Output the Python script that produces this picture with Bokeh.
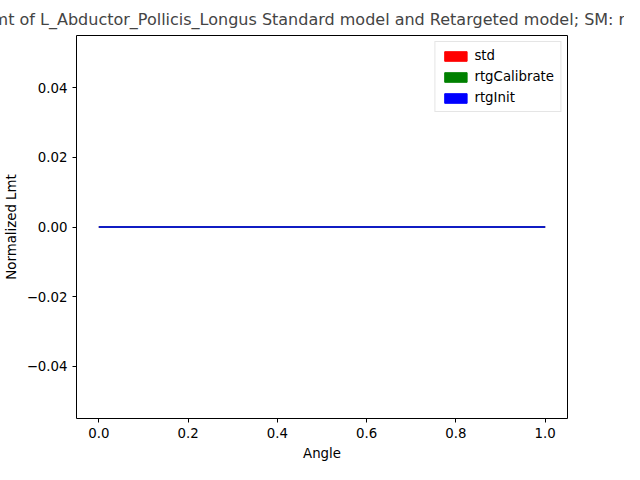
from bokeh.plotting import figure
from bokeh.models import Range1d, Legend, LegendItem, FixedTicker, CustomJSTickFormatter
from bokeh.embed import file_html
from bokeh.resources import INLINE

angle = [0.0, 1.0]
std = [0.0, 0.0]
rtg_calibrate = [0.0, 0.0]
rtg_init = [0.0, 0.0]
x_ticks = [0.0, 0.2, 0.4, 0.6, 0.8, 1.0]
y_ticks = [-0.04, -0.02, 0.0, 0.02, 0.04]

title = ("Normalized Lmt of L_Abductor_Pollicis_Longus Standard model and "
         "Retargeted model; SM: rightHand_model")

p = figure(width=624, height=464, output_backend="svg", toolbar_location=None,
           x_range=Range1d(-0.05, 1.05), y_range=Range1d(-0.055, 0.055),
           min_border_left=72, min_border_right=57, min_border_top=20, min_border_bottom=46)
p.title.text = title
p.title.align = "center"
p.title.text_font = "DejaVu Sans"
p.title.text_font_style = "normal"
p.title.text_font_size = "12pt"
p.title.offset = 0
p.title.standoff = 14
p.xgrid.visible = False
p.ygrid.visible = False
p.outline_line_color = "black"
for ax in (p.xaxis[0], p.yaxis[0]):
    ax.axis_label_text_font = "DejaVu Sans"
    ax.axis_label_text_font_style = "normal"
    ax.axis_label_text_font_size = "10pt"
    ax.axis_label_text_color = "black"
    ax.major_label_text_font = "DejaVu Sans"
    ax.major_label_text_font_size = "10pt"
    ax.major_label_text_color = "black"
    ax.minor_tick_line_color = None
    ax.major_tick_in = 0
    ax.major_tick_out = 4
    ax.axis_line_color = None
p.xaxis.axis_label = "Angle"
p.yaxis.axis_label = "Normalized Lmt"
p.xaxis.ticker = FixedTicker(ticks=x_ticks)
p.yaxis.ticker = FixedTicker(ticks=y_ticks)
p.xaxis.formatter = CustomJSTickFormatter(code="return tick.toFixed(1);")
p.yaxis.formatter = CustomJSTickFormatter(code="return tick.toFixed(2).replace('-', '\u2212');")

p.line(angle, std, color="red", line_width=1.5)
p.line(angle, rtg_calibrate, color="green", line_width=1.5)
p.line(angle, rtg_init, color="blue", line_width=1.5)

items = []
for name, c in [("std", "red"), ("rtgCalibrate", "green"), ("rtgInit", "blue")]:
    r = p.rect([0.5], [0.0], 0.001, 0.001, fill_color=c, line_color=c, visible=False)
    items.append(LegendItem(label=name, renderers=[r]))
leg = Legend(items=items, location="top_right", label_text_font="DejaVu Sans",
             label_text_font_size="10pt", label_text_color="black",
             border_line_color="#cccccc", glyph_width=28, glyph_height=12,
             label_height=14, spacing=6, padding=6, margin=6)
p.add_layout(leg)

open("out.html", "w").write(file_html(p, INLINE))
